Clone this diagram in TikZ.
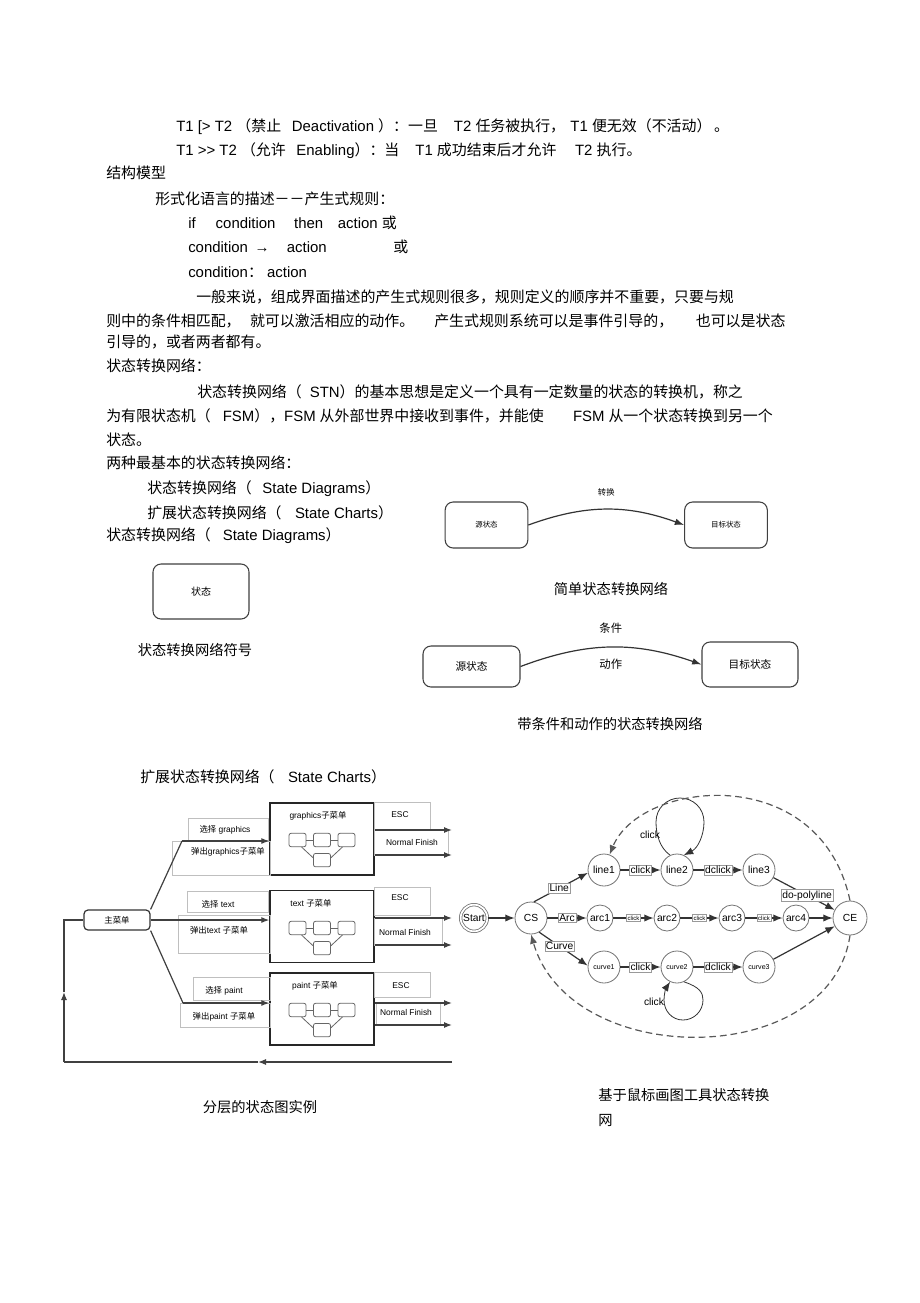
\documentclass[tikz,border=0pt]{standalone}
\usepackage{fontspec}
\setmainfont{Liberation Sans}
\newfontfamily\cjk{Noto Sans CJK SC}
\usetikzlibrary{arrows.meta, positioning}

\newcommand{\zh}[1]{{\cjk #1}}
\newcommand{\fsz}[1]{\fontsize{#1}{#1}\selectfont}

% little chart inside each sub menu box
\newcommand{\subchart}[3]{%
  \node[mini] (#1b) at (#2,#3) {};
  \node[mini, left=5pt of #1b] (#1a) {};
  \node[mini, right=5pt of #1b] (#1c) {};
  \node[mini, below=4.5pt of #1b] (#1d) {};
  \draw[minil] (#1a) -- (#1b) -- (#1c);
  \draw[minil] (#1a.-60) -- (#1d.165);
  \draw[minil] (#1c.-120) -- (#1d.15);
}

\begin{document}
\begin{tikzpicture}[x=0.75pt, y=-0.75pt,
    txtline/.style={anchor=west, inner sep=0pt, font=\fsz{11.2}},
    capt/.style={inner sep=0pt, font=\fsz{10.7}\cjk},
    stbox/.style={draw=black!75, line width=0.8pt, rounded corners=6pt, inner sep=0pt},
    sarr/.style={-{Latex[length=7pt,width=5pt]}, line width=0.9pt, draw=black!80},
    menubox/.style={draw=black!80, line width=0.9pt, rounded corners=3pt, minimum width=49.5pt, minimum height=15pt, inner sep=0pt, font=\fsz{6.3}\cjk},
    subbox/.style={draw=black!85, line width=1pt, minimum width=78pt, minimum height=54pt, inner sep=0pt},
    mini/.style={draw=black!60, line width=0.6pt, rounded corners=1.5pt, minimum width=12.75pt, minimum height=10pt, inner sep=0pt},
    minil/.style={draw=black!60, line width=0.6pt},
    lblframe/.style={draw=black!25, line width=0.4pt},
    hlbl/.style={inner sep=0pt, font=\fsz{6.3}},
    hline/.style={line width=0.9pt, draw=black!75},
    harr/.style={hline, -{Latex[length=6pt,width=4.5pt]}},
    st/.style={circle, draw=black!55, line width=0.6pt, minimum size=24pt, inner sep=0pt, font=\fsz{7.7}, fill=white},
    sts/.style={st, minimum size=19.5pt},
    stc/.style={st, font=\fsz{5.3}},
    elbl/.style={draw=black!40, fill=white, inner sep=0.8pt, line width=0.4pt, font=\fsz{7.7}},
    elbls/.style={elbl, font=\fsz{4.5}},
    earr/.style={-{Latex[length=7pt,width=5.5pt]}, line width=0.9pt, draw=black!80},
    dashln/.style={dashed, dash pattern=on 5pt off 3pt, line width=0.9pt, draw=black!65, -{Latex[length=7pt,width=5.5pt]}}
]
\path[use as bounding box, fill=white] (0,0) rectangle (920,1303);

% page text
\node[txtline] (t1) at (176,127) {T1 [> T2 \zh{（禁止}\hspace{8pt}Deactivation \zh{）：一旦}\hspace{12pt}T2 \zh{任务被执行，}\hspace{4pt}T1 \zh{便无效（不活动）}\hspace{2pt}\zh{。}};
\node[txtline] (t2) at (176,151) {T1 >{}> T2 \zh{（允许}\hspace{8pt}Enabling\zh{）：当}\hspace{12pt}T1 \zh{成功结束后才允许}\hspace{14pt}T2 \zh{执行。}};
\node[txtline] (t3) at (106,173) {\zh{结构模型}};
\node[txtline] (t4) at (155,199) {\zh{形式化语言的描述－－产生式规则：}};
\node[txtline] (t5) at (188,223) {if\hspace{15pt}condition\hspace{14pt}then\hspace{11pt}action \zh{或}};
\node[txtline] (t6) at (188,247) {condition \,→\hspace{13pt}action\hspace{50pt}\zh{或}};
\node[txtline] (t7) at (188,272) {condition\zh{：} action};
\node[txtline] (t8) at (196,297) {\zh{一般来说，组成界面描述的产生式规则很多，规则定义的顺序并不重要，只要与规}};
\node[txtline] (t9) at (106,321) {\zh{则中的条件相匹配，\hspace{7pt}就可以激活相应的动作。\hspace{15pt}产生式规则系统可以是事件引导的，\hspace{17pt}也可以是状态}};
\node[txtline] (t10) at (106,342) {\zh{引导的，或者两者都有。}};
\node[txtline] (t11) at (106,366) {\zh{状态转换网络：}};
\node[txtline] (t12) at (197,392) {\zh{状态转换网络（}\hspace{6pt}STN\zh{）的基本思想是定义一个具有一定数量的状态的转换机，称之}};
\node[txtline] (t13) at (106,416) {\zh{为有限状态机（}\hspace{9pt}FSM\zh{），}FSM\hspace{3pt}\zh{从外部世界中接收到事件，并能使}\hspace{22pt}FSM\hspace{3pt}\zh{从一个状态转换到另一个}};
\node[txtline] (t14) at (106,440) {\zh{状态。}};
\node[txtline] (t15) at (106,463) {\zh{两种最基本的状态转换网络：}};
\node[txtline] (t16) at (147,489) {\zh{状态转换网络（}\hspace{8pt}State Diagrams\zh{）}};
\node[txtline] (t17) at (147,513) {\zh{扩展状态转换网络（}\hspace{10pt}State Charts\zh{）}};
\node[txtline] (t18) at (106,536) {\zh{状态转换网络（}\hspace{9pt}State Diagrams\zh{）}};
\node[txtline] (t19) at (140,777) {\zh{扩展状态转换网络（}\hspace{10pt}State Charts\zh{）}};

% symbol
\node[stbox, minimum width=72pt, minimum height=41.25pt, font=\fsz{7.5}\cjk] (sym) at (201,591.5) {状态};
\node[capt] (cap2) at (195,650) {状态转换网络符号};

% simple network
\node[stbox, minimum width=62pt, minimum height=34.5pt, font=\fsz{5.6}\cjk] (src1) at (486.5,525) {源状态};
\node[stbox, minimum width=62pt, minimum height=34.5pt, font=\fsz{5.6}\cjk] (tgt1) at (726,525) {目标状态};
\draw[sarr] (src1.east) to[bend left=20] node[above=6pt, font=\fsz{6.2}\cjk] (conv) {转换} (tgt1.west);
\node[capt] (cap1) at (611,589) {简单状态转换网络};

% network with condition and action
\node[stbox, minimum width=72.75pt, minimum height=30.75pt, font=\fsz{8}\cjk] (src2) at (471.5,666.5) {源状态};
\node[stbox, minimum width=72pt, minimum height=33.75pt, font=\fsz{8}\cjk] (tgt2) at (750,664.5) {目标状态};
\draw[sarr] (src2.east) to[bend left=20] node[above=7pt, font=\fsz{8.5}\cjk] (cond) {条件} node[below=5pt, font=\fsz{8.5}\cjk] (act) {动作} (tgt2.west);
\node[capt] (cap3) at (610,724) {带条件和动作的状态转换网络};

% hierarchical state chart
\node[menubox] (menu) at (117,920) {主菜单};
\node[subbox] (gfx) at (322,839) {};
\node[subbox] (txt) at (322,926.5) {};
\node[subbox] (pnt) at (322,1009) {};
\node[hlbl] (gfxt) at (318,816) {graphics\zh{子菜单}};
\node[hlbl] (txtt) at (311,903) {text \zh{子菜单}};
\node[hlbl] (pntt) at (315,986) {paint \zh{子菜单}};
\subchart{g}{322}{840}
\subchart{t}{322}{928}
\subchart{p}{322}{1010}

\draw[lblframe] (188,818) rectangle (268,840);
\draw[lblframe] (172,841) rectangle (270,875);
\draw[lblframe] (187,891) rectangle (268,912);
\draw[lblframe] (178,915) rectangle (270,953);
\draw[lblframe] (193,977) rectangle (270,1000);
\draw[lblframe] (180,1003) rectangle (270,1027);
\draw[lblframe] (374,802) rectangle (430,829);
\draw[lblframe] (374,830) rectangle (448,855);
\draw[lblframe] (374,887) rectangle (430,915);
\draw[lblframe] (374,918) rectangle (442,945);
\draw[lblframe] (374,972) rectangle (430,997);
\draw[lblframe] (376,1003) rectangle (440,1025);

\node[hlbl] (selg) at (225,830) {\zh{选择} graphics};
\node[hlbl] (popg) at (228,852) {\zh{弹出}graphics\zh{子菜单}};
\node[hlbl] (selt) at (218,904) {\zh{选择} text};
\node[hlbl] (popt) at (219,930) {\zh{弹出}text \zh{子菜单}};
\node[hlbl] (selp) at (224,991) {\zh{选择} paint};
\node[hlbl] (popp) at (224,1017) {\zh{弹出}paint \zh{子菜单}};
\node[hlbl] (escg) at (400,815) {ESC};
\node[hlbl] (nfg) at (412,842) {Normal Finish};
\node[hlbl] (esct) at (400,898) {ESC};
\node[hlbl] (nft) at (405,932) {Normal Finish};
\node[hlbl] (escp) at (401,986) {ESC};
\node[hlbl] (nfp) at (406,1012) {Normal Finish};

\coordinate (b1) at (182,841);
\coordinate (b3) at (183,1003);
\draw[hline] (menu.north east) -- (b1);
\draw[harr] (b1) -- (b1 -| gfx.west);
\draw[harr] (menu.east) -- (menu.east -| txt.west);
\draw[hline] (menu.south east) -- (b3);
\draw[harr] (b3) -- (b3 -| pnt.west);

\coordinate (eg1) at (452,830);
\coordinate (eg2) at (452,855);
\coordinate (et1) at (452,918);
\coordinate (et2) at (452,945);
\coordinate (ep1) at (452,1003);
\coordinate (ep2) at (452,1025);
\draw[harr] (eg1 -| gfx.east) -- (eg1);
\draw[harr] (eg2 -| gfx.east) -- (eg2);
\draw[harr] (et1 -| txt.east) -- (et1);
\draw[harr] (et2 -| txt.east) -- (et2);
\draw[harr] (ep1 -| pnt.east) -- (ep1);
\draw[harr] (ep2 -| pnt.east) -- (ep2);

\coordinate (rr) at (452,1062);
\coordinate (rm) at (258,1062);
\coordinate (rl) at (64,1062);
\coordinate (ru) at (64,992);
\draw[harr] (rr) -- (rm);
\draw[hline] (rm) -- (rl);
\draw[harr] (rl) -- (ru);
\draw[hline] (ru) -- (ru |- menu.west) -- (menu.west);
\node[capt] (cap4) at (260,1107) {分层的状态图实例};

% mouse drawing tool network
\node[st, double, double distance=1.3pt, minimum size=20pt] (start) at (474,918) {Start};
\node[st] (cs) at (531,918) {CS};
\node[st] (line1) at (604,870) {line1};
\node[st] (line2) at (677,870) {line2};
\node[st] (line3) at (759,870) {line3};
\node[sts] (arc1) at (600,918) {arc1};
\node[sts] (arc2) at (667,918) {arc2};
\node[sts] (arc3) at (732,918) {arc3};
\node[sts] (arc4) at (796,918) {arc4};
\node[st, minimum size=25.5pt] (ce) at (850,918) {CE};
\node[stc] (curve1) at (604,967) {curve1};
\node[stc] (curve2) at (677,967) {curve2};
\node[stc] (curve3) at (759,967) {curve3};

\draw[earr] (start) -- (cs);
\draw[earr] (cs.80) -- node[elbl, pos=0.47] {Line} (line1.190);
\draw[earr] (cs) -- node[elbl] {Arc} (arc1);
\draw[earr] (cs.-60) -- node[elbl, pos=0.42] {Curve} (curve1.175);
\draw[earr] (line1) -- node[elbl] {click} (line2);
\draw[earr] (line2) -- node[elbl] {dclick} (line3);
\draw[earr] (line3) -- node[elbl, pos=0.55] {do-polyline} (ce);
\draw[earr] (arc1) -- node[elbls] {click} (arc2);
\draw[earr] (arc2) -- node[elbls] {click} (arc3);
\draw[earr] (arc3) -- node[elbls] {click} (arc4);
\draw[earr] (arc4) -- (ce);
\draw[earr] (curve1) -- node[elbl] {click} (curve2);
\draw[earr] (curve2) -- node[elbl] {dclick} (curve3);
\draw[earr] (curve3) -- (ce);
\draw[earr, line width=0.6pt] (line2.115) .. controls (660,848) and (656,835) .. (656,822)
   .. controls (656,808) and (667,798) .. (680,798) .. controls (693,798) and (704,808) .. (704,822)
   .. controls (704,835) and (698,848) .. (line2.65);
\node[inner sep=0pt, font=\fsz{7.7}] (lp1) at (650,835) {click};
\draw[earr, line width=0.6pt] (curve2.-65) .. controls (700,987) and (703,993) .. (703,1000)
   .. controls (703,1011) and (694,1020) .. (683,1020) .. controls (672,1020) and (664,1011) .. (664,1000)
   .. controls (664,994) and (666,988) .. (curve2.-115);
\node[inner sep=0pt, font=\fsz{7.7}] (lp2) at (654,1002) {click};
\draw[dashln] (ce.north) .. controls (820,760) and (640,780) .. (line1.70);
\draw[dashln] (ce.south) .. controls (830,1070) and (570,1070) .. (cs.south);

\node[capt, anchor=west] (cap5) at (598,1095) {基于鼠标画图工具状态转换};
\node[capt, anchor=west] (cap6) at (598,1120) {网};
\end{tikzpicture}
\end{document}
